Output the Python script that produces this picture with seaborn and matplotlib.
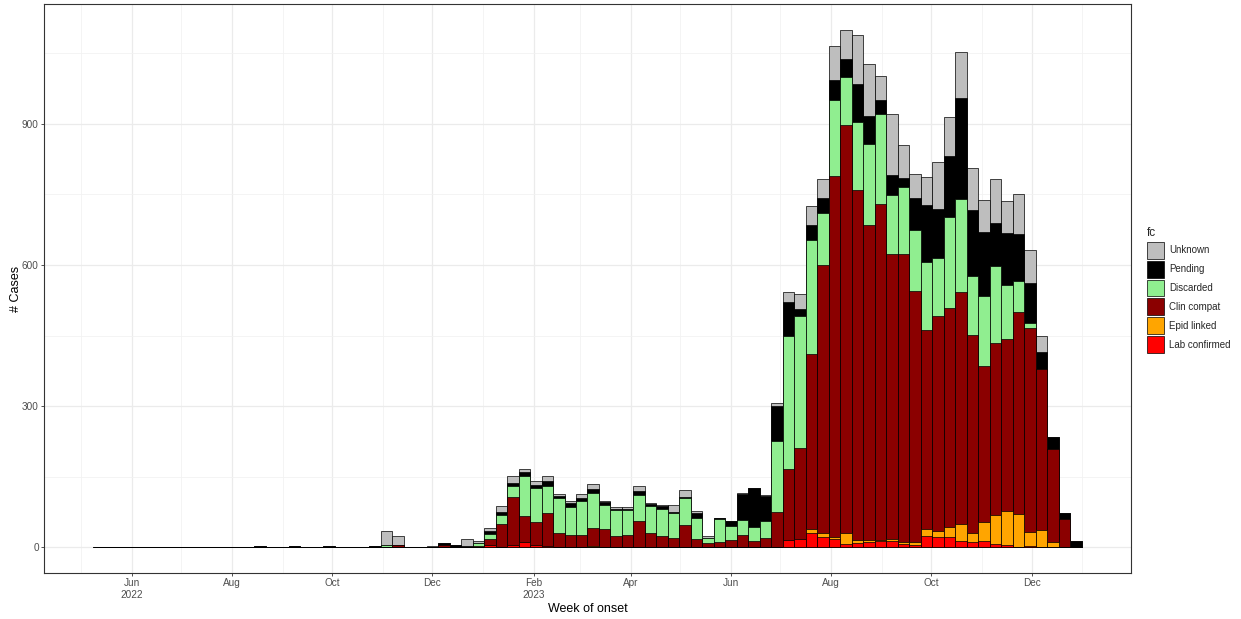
import numpy as np
import pandas as pd
import matplotlib
matplotlib.use("Agg")
import matplotlib.pyplot as plt
import matplotlib.dates as mdates
from matplotlib.patches import Patch
from matplotlib.ticker import FixedLocator, MultipleLocator
import seaborn as sns

# --- DATA: weekly case counts by final classification ---
FIRST_WEEK = "2022-05-12"
N_WEEKS = 86

lab_confirmed = [
    0, 0, 0, 0, 0, 0, 0, 0, 0, 0,
    0, 0, 0, 0, 0, 0, 0, 0, 0, 0,
    0, 0, 0, 0, 0, 0, 0, 0, 0, 0,
    0, 0, 0, 0, 4, 1, 4, 11, 5, 3,
    1, 0, 0, 0, 0, 1, 0, 0, 0, 0,
    0, 0, 0, 0, 0, 0, 1, 1, 1, 1,
    16, 18, 31, 22, 18, 7, 9, 11, 12, 12,
    7, 5, 23, 22, 22, 12, 11, 14, 7, 5,
    0, 3, 0, 0, 0, 0,
]
epid_linked = [
    0, 0, 0, 0, 0, 0, 0, 0, 0, 0,
    0, 0, 0, 0, 0, 0, 0, 0, 0, 0,
    0, 0, 0, 0, 0, 0, 0, 0, 0, 0,
    0, 0, 0, 0, 0, 0, 0, 0, 0, 0,
    0, 0, 0, 3, 0, 0, 0, 0, 0, 0,
    0, 0, 0, 0, 0, 0, 0, 0, 0, 0,
    0, 0, 7, 7, 3, 22, 6, 5, 4, 6,
    4, 6, 16, 12, 21, 38, 20, 40, 62, 71,
    71, 29, 37, 11, 0, 0,
]
clin_compat = [
    0, 0, 0, 0, 0, 0, 0, 0, 0, 0,
    0, 0, 0, 0, 0, 0, 0, 0, 0, 0,
    0, 0, 0, 0, 0, 0, 5, 0, 0, 0,
    5, 0, 0, 2, 13, 49, 102, 56, 48, 69,
    28, 26, 26, 38, 38, 23, 25, 56, 29, 24,
    19, 48, 17, 8, 11, 15, 24, 13, 18, 73,
    151, 193, 373, 571, 769, 868, 744, 670, 714, 606,
    612, 533, 423, 457, 466, 492, 420, 331, 365, 367,
    430, 435, 341, 198, 60, 0,
]
discarded = [
    0, 0, 0, 0, 0, 0, 0, 0, 0, 0,
    0, 0, 0, 0, 0, 0, 0, 0, 0, 0,
    0, 0, 0, 0, 0, 4, 0, 0, 0, 0,
    0, 0, 0, 6, 11, 18, 24, 84, 72, 57,
    75, 60, 72, 75, 51, 54, 55, 54, 58, 58,
    54, 56, 44, 12, 48, 31, 32, 28, 36, 151,
    283, 280, 243, 111, 161, 103, 146, 172, 192, 124,
    142, 131, 145, 123, 192, 199, 125, 149, 163, 115,
    64, 9, 0, 0, 0, 0,
]
pending = [
    0, 0, 0, 0, 0, 0, 0, 0, 0, 0,
    0, 0, 0, 0, 3, 0, 0, 2, 0, 0,
    2, 0, 0, 0, 3, 0, 0, 1, 1, 0,
    4, 4, 3, 0, 6, 6, 6, 9, 7, 12,
    4, 7, 6, 8, 6, 3, 2, 10, 5, 5,
    2, 2, 11, 0, 2, 10, 55, 83, 54, 75,
    72, 16, 32, 31, 43, 38, 79, 58, 28, 43,
    20, 68, 120, 106, 131, 215, 140, 137, 93, 110,
    101, 86, 37, 26, 12, 14,
]
unknown = [
    0, 0, 0, 0, 0, 0, 0, 0, 0, 0,
    0, 0, 0, 0, 0, 0, 0, 0, 0, 0,
    0, 0, 0, 0, 0, 31, 19, 0, 0, 3,
    0, 0, 14, 4, 7, 13, 16, 7, 8, 11,
    5, 5, 8, 11, 3, 4, 3, 11, 1, 3,
    14, 16, 5, 3, 0, 0, 4, 1, 1, 6,
    20, 31, 40, 40, 72, 62, 106, 111, 51, 130,
    70, 51, 61, 98, 83, 97, 91, 67, 93, 69,
    86, 69, 35, 0, 0, 0,
]

# stacking order, bottom -> top
categories = ["Lab confirmed", "Epid linked", "Clin compat", "Discarded", "Pending", "Unknown"]
series = [lab_confirmed, epid_linked, clin_compat, discarded, pending, unknown]
colors = {
    "Lab confirmed": "#FF0000",
    "Epid linked": "#FFA500",
    "Clin compat": "#8B0000",
    "Discarded": "#90EE90",
    "Pending": "#000000",
    "Unknown": "#BEBEBE",
}

weeks = pd.date_range(FIRST_WEEK, periods=N_WEEKS, freq="7D")
xnum = mdates.date2num(weeks)

df = pd.DataFrame({c: v for c, v in zip(categories, series)})
df["x"] = xnum
cum = df[categories].cumsum(axis=1)

sns.set_theme(style="white")
plt.rcParams["font.family"] = ["Liberation Sans", "DejaVu Sans"]

fig = plt.figure(figsize=(12.41, 6.19), dpi=100)
ax = fig.add_axes([44 / 1241, 46 / 619, (1131 - 44) / 1241, (573 - 4) / 619])

# draw cumulative bars from the top layer down so each lower layer overlays
for cat in reversed(categories):
    sns.barplot(x=df["x"], y=cum[cat], color=colors[cat], native_scale=True,
                width=1, edgecolor="black", linewidth=0.5, errorbar=None,
                saturation=1, ax=ax)

# axes limits, ggplot-style 5% expansion
left_edge, right_edge = xnum[0] - 3.5, xnum[-1] + 3.5
pad = 0.05 * (right_edge - left_edge)
ax.set_xlim(left_edge - pad, right_edge + pad)
ymax = cum["Unknown"].max()
ax.set_ylim(-0.05 * ymax, 1.05 * ymax)

# date ticks
ticks = pd.date_range("2022-06-01", "2023-12-01", freq="2MS")
labels = []
prev_year = None
for t in ticks:
    lab = t.strftime("%b")
    if t.year != prev_year:
        lab += "\n" + str(t.year)
    prev_year = t.year
    labels.append(lab)
ax.xaxis.set_major_locator(FixedLocator(mdates.date2num(ticks)))
ax.set_xticklabels(labels)
ax.xaxis.set_minor_locator(mdates.MonthLocator(bymonth=[1, 3, 5, 7, 9, 11]))
ax.yaxis.set_major_locator(MultipleLocator(300))
ax.yaxis.set_minor_locator(MultipleLocator(150))

ax.set_axisbelow(True)
ax.grid(which="major", color="#EBEBEB", linewidth=0.9)
ax.grid(which="minor", color="#F2F2F2", linewidth=0.6)
ax.tick_params(axis="both", which="major", length=2.2, width=0.6, color="#333333",
               labelsize=7.2, labelcolor="#4D4D4D", pad=1.5, bottom=True, left=True)
ax.tick_params(axis="both", which="minor", length=0)
for s in ax.spines.values():
    s.set_color("#333333")
    s.set_linewidth(0.8)

ax.set_xlabel("Week of onset", fontsize=9, color="black", labelpad=2)
ax.set_ylabel("# Cases", fontsize=9, color="black", labelpad=0)

# legend, top-most layer first
handles = [Patch(facecolor=colors[c], edgecolor="black", linewidth=0.5, label=c)
           for c in reversed(categories)]
leg = fig.legend(handles=handles, title="fc", loc="upper left",
                 bbox_to_anchor=(1147 / 1241, 1 - 227 / 619), frameon=False,
                 fontsize=7, title_fontsize=8.5, handlelength=1.75, handleheight=2.3,
                 labelspacing=0.2, handletextpad=0.55, borderaxespad=0, borderpad=0,
                 alignment="left")
leg._legend_box.sep = 2

fig.savefig("out.png", dpi=100)
